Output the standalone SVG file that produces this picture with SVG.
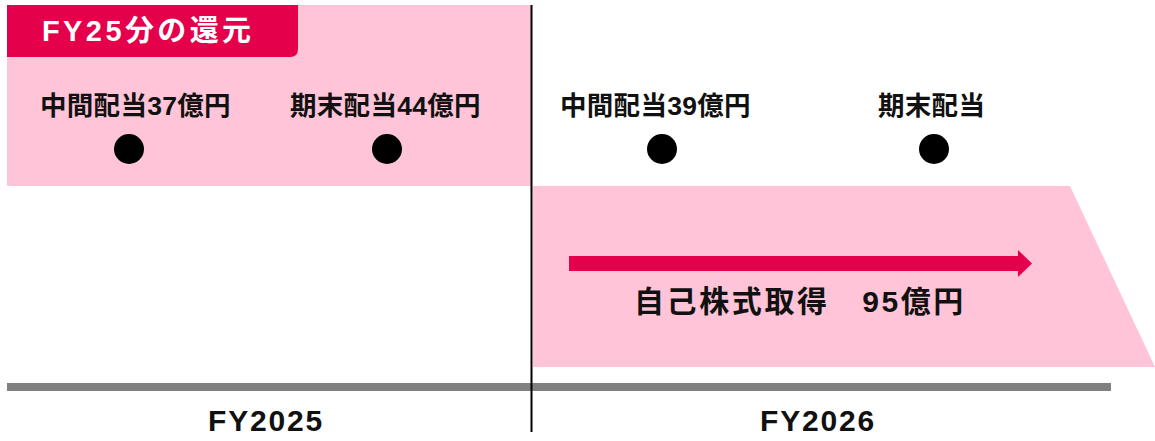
<svg xmlns="http://www.w3.org/2000/svg" width="1155" height="441" viewBox="0 0 1155 441">
<style>
.t{font-family:"Liberation Sans","Noto Sans CJK JP",sans-serif;font-weight:bold;fill:#111}
.lab{font-size:26.5px;letter-spacing:0.3px}
.pink{fill:#FFC4D8}
.red{fill:#E4004A}
.dot{fill:#000}
</style>
<rect width="1155" height="441" fill="#fff"/>
<g id="fy25-panel">
<rect class="pink" x="7" y="5" width="524" height="181"/>
<path class="red" d="M7 5H298V49Q298 57 290 57H7Z"/>
<text class="t" x="42" y="41" font-size="29" letter-spacing="3.4" style="fill:#fff">FY25分の還元</text>
</g>
<g id="fy26-panel">
<polygon class="pink" points="533,186 1070,186 1155,367 533,367"/>
</g>
<g id="node-interim25">
<text class="t lab" x="40" y="115">中間配当37億円</text>
<circle class="dot" cx="129" cy="149" r="15"/>
</g>
<g id="node-final25">
<text class="t lab" x="290" y="115">期末配当44億円</text>
<circle class="dot" cx="387" cy="149" r="15"/>
</g>
<g id="node-interim26">
<text class="t lab" x="560" y="115">中間配当39億円</text>
<circle class="dot" cx="662" cy="149" r="15"/>
</g>
<g id="node-final26">
<text class="t lab" x="878" y="115">期末配当</text>
<circle class="dot" cx="934" cy="149" r="15"/>
</g>
<g id="node-buyback">
<text class="t" x="634" y="312" font-size="30" letter-spacing="2.6" xml:space="preserve">自己株式取得　95億円</text>
</g>
<g id="connectors">
<rect class="red" x="569" y="256" width="450" height="15"/>
<polygon class="red" points="1018,250 1032,263.5 1018,277"/>
<rect x="7" y="383" width="1104" height="8" fill="#808080"/>
<line x1="531.5" y1="5" x2="531.5" y2="432" stroke="#000" stroke-width="2"/>
</g>
<g id="axis-labels">
<text class="t" x="266" y="431" font-size="30" text-anchor="middle" letter-spacing="1.8">FY2025</text>
<text class="t" x="818" y="431" font-size="30" text-anchor="middle" letter-spacing="1.8">FY2026</text>
</g>
</svg>
